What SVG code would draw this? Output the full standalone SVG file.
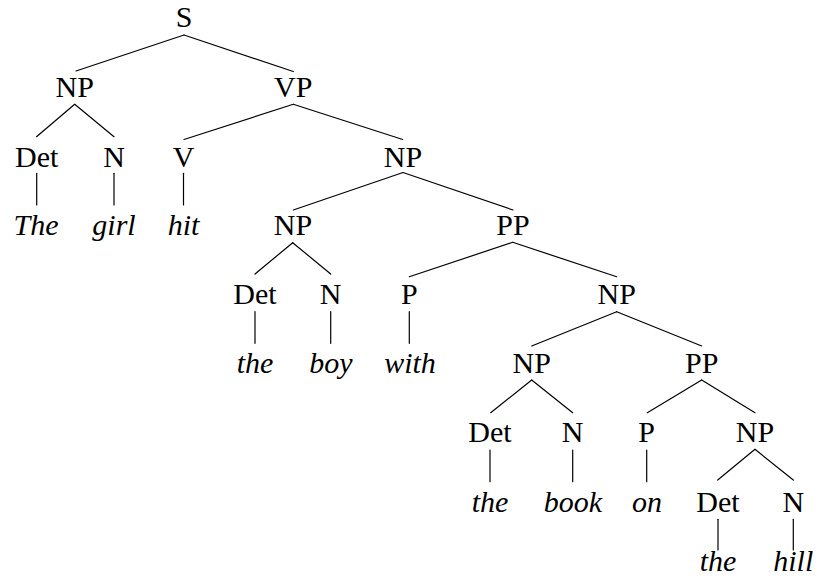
<svg xmlns="http://www.w3.org/2000/svg" width="819" height="585" viewBox="0 0 819 585" font-family="Liberation Serif, DejaVu Serif, serif">
<style>
text{font-size:30px;fill:#000;text-anchor:middle}
.w{font-style:italic}
#edges line{stroke:#000;stroke-width:1.2;stroke-linecap:round}
</style>
<rect width="819" height="585" fill="#fff"/>
<g id="edges">
<line x1="184" y1="35" x2="76" y2="71"/>
<line x1="184" y1="35" x2="293.3" y2="71.5"/>
<line x1="74.7" y1="104.3" x2="36.5" y2="136.7"/>
<line x1="74.7" y1="104.3" x2="114" y2="136.7"/>
<line x1="293.3" y1="104.3" x2="184" y2="139.5"/>
<line x1="293.3" y1="104.3" x2="402.7" y2="139.5"/>
<line x1="36.7" y1="173.3" x2="36.7" y2="205"/>
<line x1="114" y1="173.3" x2="114" y2="205"/>
<line x1="183.5" y1="173.3" x2="183.5" y2="205"/>
<line x1="403" y1="172.5" x2="293.3" y2="210"/>
<line x1="403" y1="172.5" x2="513" y2="210"/>
<line x1="292.7" y1="242.7" x2="255" y2="274"/>
<line x1="292.7" y1="242.7" x2="330.7" y2="274"/>
<line x1="512.7" y1="242.3" x2="409.3" y2="276.7"/>
<line x1="512.7" y1="242.3" x2="616.7" y2="276.7"/>
<line x1="255" y1="311.7" x2="255" y2="343.3"/>
<line x1="330.7" y1="311.7" x2="330.7" y2="343.3"/>
<line x1="409.3" y1="311.7" x2="409.3" y2="343.3"/>
<line x1="616.7" y1="311.7" x2="531.7" y2="346"/>
<line x1="616.7" y1="311.7" x2="701.7" y2="346"/>
<line x1="531.7" y1="380" x2="490.7" y2="412.7"/>
<line x1="531.7" y1="380" x2="572.7" y2="412.7"/>
<line x1="701.7" y1="380" x2="647.3" y2="412.7"/>
<line x1="701.7" y1="380" x2="755" y2="412.7"/>
<line x1="490" y1="450" x2="490" y2="481.7"/>
<line x1="572.7" y1="450" x2="572.7" y2="481.7"/>
<line x1="646.7" y1="450" x2="646.7" y2="481.7"/>
<line x1="755" y1="449.3" x2="717.7" y2="480"/>
<line x1="755" y1="449.3" x2="793.3" y2="480"/>
<line x1="718" y1="519.3" x2="718" y2="550"/>
<line x1="793.3" y1="519.3" x2="793.3" y2="550"/>
</g>
<g id="n-S"><text x="184" y="27">S</text></g>
<g id="n-NP1"><text x="74.7" y="96.5">NP</text></g>
<g id="n-VP"><text x="293.3" y="96.5">VP</text></g>
<g id="n-Det1"><text x="36.7" y="166.5">Det</text></g>
<g id="n-N1"><text x="114" y="166.5">N</text></g>
<g id="n-V"><text x="183.5" y="166.5">V</text></g>
<g id="n-NP2"><text x="403" y="166.5">NP</text></g>
<g id="w-The"><text class="w" x="36" y="235">The</text></g>
<g id="w-girl"><text class="w" x="114" y="235">girl</text></g>
<g id="w-hit"><text class="w" x="183.5" y="235">hit</text></g>
<g id="n-NP3"><text x="293" y="235">NP</text></g>
<g id="n-PP3"><text x="513" y="235">PP</text></g>
<g id="n-Det4"><text x="255" y="304">Det</text></g>
<g id="n-N4"><text x="330.7" y="304">N</text></g>
<g id="n-P4"><text x="409.3" y="304">P</text></g>
<g id="n-NP4"><text x="616.7" y="304">NP</text></g>
<g id="w-the1"><text class="w" x="255" y="373.3">the</text></g>
<g id="w-boy"><text class="w" x="331" y="373.3">boy</text></g>
<g id="w-with"><text class="w" x="410" y="373.3">with</text></g>
<g id="n-NP5"><text x="531.7" y="373.3">NP</text></g>
<g id="n-PP5"><text x="701.7" y="373.3">PP</text></g>
<g id="n-Det6"><text x="490" y="442">Det</text></g>
<g id="n-N6"><text x="572.7" y="442">N</text></g>
<g id="n-P6"><text x="646.7" y="442">P</text></g>
<g id="n-NP6"><text x="755" y="442">NP</text></g>
<g id="w-the2"><text class="w" x="490" y="511.7">the</text></g>
<g id="w-book"><text class="w" x="573" y="511.7">book</text></g>
<g id="w-on"><text class="w" x="647" y="511.7">on</text></g>
<g id="n-Det7"><text x="718" y="511.7">Det</text></g>
<g id="n-N7"><text x="793.3" y="511.7">N</text></g>
<g id="w-the3"><text class="w" x="718" y="571">the</text></g>
<g id="w-hill"><text class="w" x="793.3" y="571">hill</text></g>
</svg>
